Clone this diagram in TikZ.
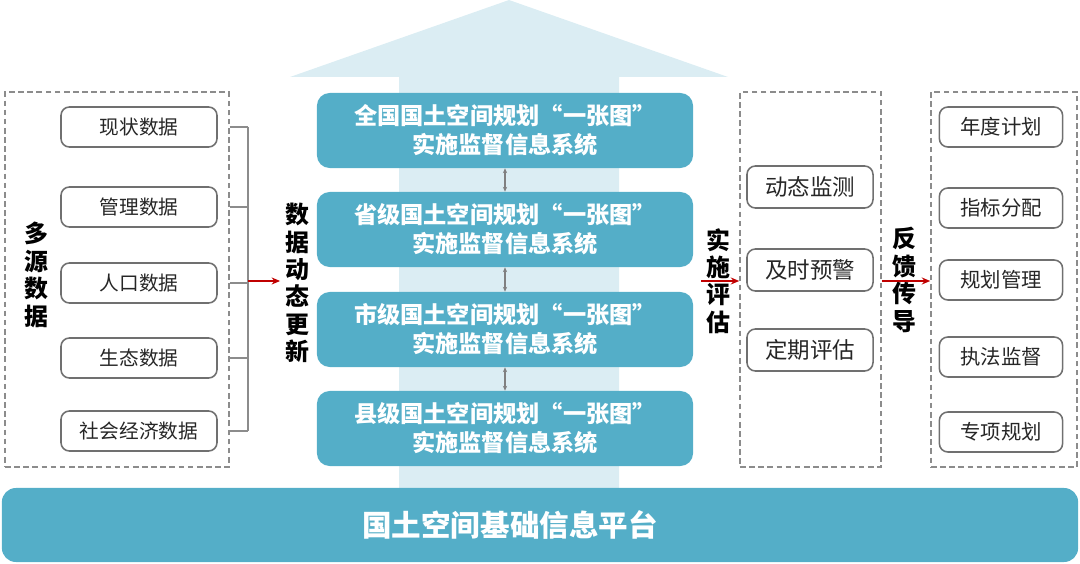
\documentclass[tikz,border=0pt]{standalone}
\usepackage{fontspec}
\setmainfont{Noto Sans CJK SC}
\definecolor{sysblue}{RGB}{84, 174, 200}
\definecolor{palearrow}{RGB}{219, 237, 243}
\definecolor{flowred}{RGB}{192, 0, 0}
\definecolor{framegray}{RGB}{140, 140, 140}
\definecolor{inkgray}{RGB}{38, 38, 38}
\usetikzlibrary{arrows.meta, positioning, calc}

\begin{document}
\begin{tikzpicture}[x=0.025cm, y=-0.025cm,
  frame/.style={draw=framegray, line width=1.1pt, dash pattern=on 4pt off 2.5pt, inner sep=0pt},
  itembox/.style={draw=framegray!80!black, line width=1.1pt, rounded corners=6pt, minimum height=1cm,
    font=\fontsize{14}{16}\selectfont, text=inkgray, inner sep=0pt},
  sysbox/.style={fill=sysblue, rounded corners=9pt, minimum width=9.4cm, minimum height=1.875cm,
    align=center, text=white, font=\fontsize{16.5}{20.5}\selectfont\bfseries},
  vlabel/.style={align=center, font=\fontsize{17}{19.5}\selectfont\bfseries, text=black},
  bracket/.style={draw=framegray, line width=1pt},
  flow/.style={-{Stealth[length=6pt, width=5pt]}, draw=flowred, line width=1.4pt},
  link/.style={{Stealth[length=3.5pt, width=3pt]}-{Stealth[length=3.5pt, width=3pt]}, draw=gray, line width=0.8pt}]
  \useasboundingbox (0, 0) rectangle (1080, 564);

  % Upward arrow behind the systems
  \fill[palearrow] (399, 495) -- (399, 77) -- (290, 77) -- (509, 0) -- (728, 77) -- (619, 77) -- (619, 495) -- cycle;

  % Multi-source data
  \node[frame, minimum width=5.6cm, minimum height=9.375cm] (srcframe) at (117, 279.5) {};
  \node[vlabel] (srclabel) at (36, 275) {多\\源\\数\\据};
  \node[itembox, minimum width=3.9cm] (src1) at (139, 127) {现状数据};
  \node[itembox, minimum width=3.9cm] (src2) at (139, 207) {管理数据};
  \node[itembox, minimum width=3.9cm] (src3) at (139, 283) {人口数据};
  \node[itembox, minimum width=3.9cm] (src4) at (139, 358) {生态数据};
  \node[itembox, minimum width=3.9cm] (src5) at (139, 431) {社会经济数据};

  \coordinate (bus) at (248, 281);
  \foreach \i in {1,...,5}
    \draw[bracket] (srcframe.east |- src\i) -- (bus |- src\i);
  \draw[bracket] (bus |- src1) -- (bus |- src5);

  \node[vlabel] (update) at (297, 283) {数\\据\\动\\态\\更\\新};
  \draw[flow] (bus) -- (update.west |- bus);

  % Four levels of the system
  \node[sysbox] (sys1) at (505, 130.5) {全国国土空间规划“一张图”\\实施监督信息系统};
  \node[sysbox] (sys2) at (505, 229.5) {省级国土空间规划“一张图”\\实施监督信息系统};
  \node[sysbox] (sys3) at (505, 329.5) {市级国土空间规划“一张图”\\实施监督信息系统};
  \node[sysbox] (sys4) at (505, 428.5) {县级国土空间规划“一张图”\\实施监督信息系统};
  \draw[link] (sys1) -- (sys2);
  \draw[link] (sys2) -- (sys3);
  \draw[link] (sys3) -- (sys4);

  % Evaluation
  \node[vlabel] (evallabel) at (718, 281) {实\\施\\评\\估};
  \node[frame, minimum width=3.525cm, minimum height=9.375cm] (evalframe) at (810.5, 279.5) {};
  \node[itembox, minimum width=3.15cm, minimum height=1.05cm, font=\fontsize{16}{18}\selectfont] (eval1) at (810, 187) {动态监测};
  \node[itembox, minimum width=3.15cm, minimum height=1.05cm, font=\fontsize{16}{18}\selectfont] (eval2) at (810, 270) {及时预警};
  \node[itembox, minimum width=3.15cm, minimum height=1.05cm, font=\fontsize{16}{18}\selectfont] (eval3) at (810, 350) {定期评估};
  \draw[flow] (evallabel.west |- bus) -- (evalframe.west |- bus);

  % Feedback
  \node[vlabel] (backlabel) at (904, 280) {反\\馈\\传\\导};
  \node[frame, minimum width=3.65cm, minimum height=9.375cm] (backframe) at (1004, 279.5) {};
  \node[itembox, minimum width=3.08cm, font=\fontsize{14.5}{16}\selectfont] (back1) at (1001, 127) {年度计划};
  \node[itembox, minimum width=3.08cm, font=\fontsize{14.5}{16}\selectfont] (back2) at (1001, 208) {指标分配};
  \node[itembox, minimum width=3.08cm, font=\fontsize{14.5}{16}\selectfont] (back3) at (1001, 280) {规划管理};
  \node[itembox, minimum width=3.08cm, font=\fontsize{14.5}{16}\selectfont] (back4) at (1001, 357) {执法监督};
  \node[itembox, minimum width=3.08cm, font=\fontsize{14.5}{16}\selectfont] (back5) at (1001, 432) {专项规划};
  \draw[flow] (evalframe.east |- bus) -- (backframe.west |- bus);

  % Platform
  \node[fill=sysblue, rounded corners=10pt, minimum width=26.9cm, minimum height=1.85cm] (platform) at (540, 525) {};
  \node[text=white, font=\fontsize{21}{24}\selectfont\bfseries] (platformlabel) at (510, 525) {国土空间基础信息平台};
\end{tikzpicture}
\end{document}
